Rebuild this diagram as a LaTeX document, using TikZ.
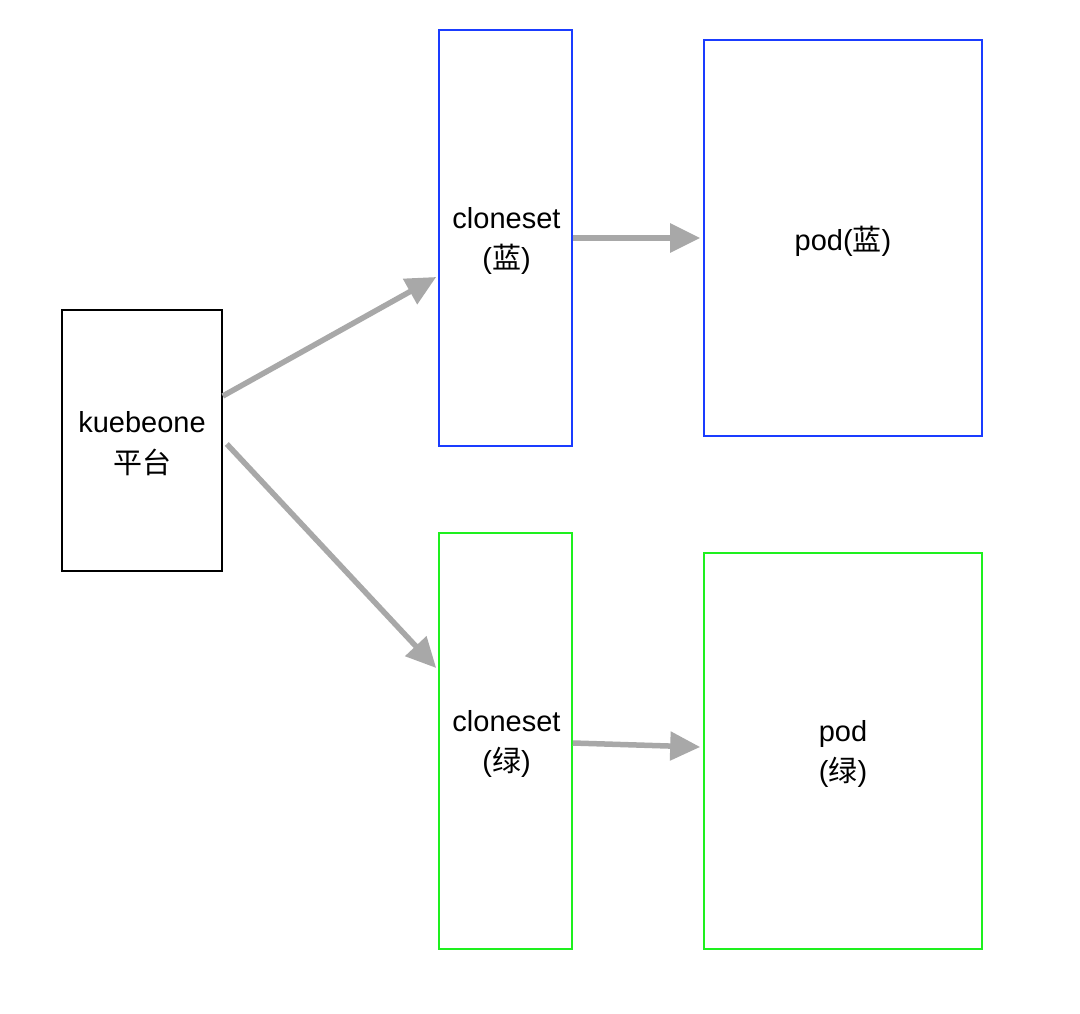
\documentclass[tikz,border=0pt]{standalone}
\usepackage{fontspec}
\setmainfont{Liberation Sans}
\newfontfamily\cjk{Noto Sans CJK SC}
\usetikzlibrary{arrows.meta,calc}
\definecolor{bluebox}{HTML}{1A3CFF}
\definecolor{greenbox}{HTML}{1EF01E}
\definecolor{arrowgray}{HTML}{A8A8A8}
\begin{document}
\begin{tikzpicture}[x=1pt,y=-1pt,
  box/.style={draw,line width=1.6pt,inner sep=0pt},
  lbl/.style={inner sep=0pt,align=center,font=\fontsize{29}{40.5}\selectfont},
  conn/.style={draw=arrowgray,line width=5.5pt,
    -{Triangle[length=30pt,width=28pt,fill=arrowgray]}}]
\useasboundingbox[fill=white] (0,0) rectangle (1080,1014);
\node[box,draw=black,minimum width=160pt,minimum height=261pt] (kb) at (142,440.5) {};
\node[box,draw=bluebox,minimum width=133pt,minimum height=416pt] (cb) at (505.5,238) {};
\node[box,draw=bluebox,minimum width=278pt,minimum height=396pt] (pb) at (843,238) {};
\node[box,draw=greenbox,minimum width=133pt,minimum height=416pt] (cg) at (505.5,741) {};
\node[box,draw=greenbox,minimum width=278pt,minimum height=396pt] (pg) at (843,751) {};
\node[lbl] (kbt) at ($(kb.center)+(0,3)$) {kuebeone\\{\cjk 平台}};
\node[lbl] (cbt) at ($(cb.center)+(1,3)$) {cloneset\\({\cjk 蓝})};
\node[lbl] (pbt) at ($(pb.center)+(0,3)$) {pod({\cjk 蓝})};
\node[lbl] (cgt) at ($(cg.center)+(1,3)$) {cloneset\\({\cjk 绿})};
\node[lbl] (pgt) at ($(pg.center)+(0,3)$) {pod\\({\cjk 绿})};
\draw[conn] ($(kb.east)+(0,-44.5)$) -- ($(cb.west)+(-2,39)$);
\draw[conn] ($(kb.east)+(4,3.5)$) -- ($(cg.west)+(-2,-73)$);
\draw[conn] (cb.east) -- ($(pb.west)+(-3,0)$);
\draw[conn] ($(cg.east)+(0,2)$) -- ($(pg.west)+(-3,-4)$);
\end{tikzpicture}
\end{document}
